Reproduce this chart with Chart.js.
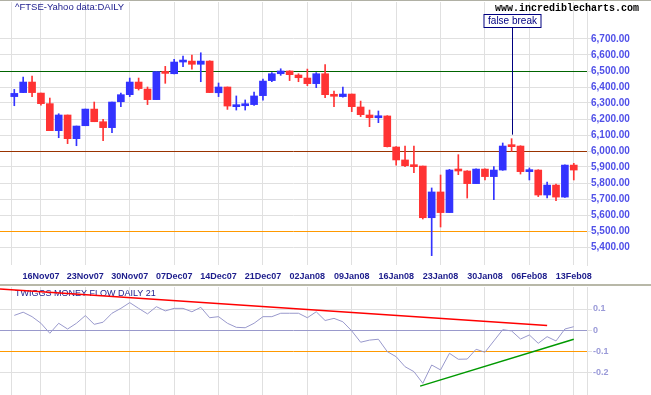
<!DOCTYPE html>
<html>
<head>
<meta charset="utf-8">
<script src="https://cdn.jsdelivr.net/npm/chart.js@4.4.1/dist/chart.umd.min.js"></script>
<style>
  html, body { margin: 0; padding: 0; background: #fff; }
  body { width: 651px; height: 395px; position: relative; overflow: hidden; }
  canvas { position: absolute; left: 0; }
  #topBorder { position: absolute; left: 0; top: 0; width: 651px; height: 1px; background: #b0b0a4; }
  #divider { position: absolute; left: 0; top: 284px; width: 651px; height: 2px; background: #b8b8a8; }
</style>
</head>
<body>
<canvas id="priceChart" width="651" height="284" style="top:0"></canvas>
<canvas id="flowChart" width="651" height="108" style="top:287px"></canvas>
<div id="topBorder"></div>
<div id="divider"></div>
<script>
// trading days, FTSE daily
const dates = ["13Nov07","14Nov07","15Nov07","16Nov07","19Nov07","20Nov07","21Nov07","22Nov07","23Nov07",
  "26Nov07","27Nov07","28Nov07","29Nov07","30Nov07","03Dec07","04Dec07","05Dec07","06Dec07","07Dec07",
  "10Dec07","11Dec07","12Dec07","13Dec07","14Dec07","17Dec07","18Dec07","19Dec07","20Dec07","21Dec07",
  "24Dec07","27Dec07","28Dec07","31Dec07","02Jan08","03Jan08","04Jan08","07Jan08","08Jan08","09Jan08",
  "10Jan08","11Jan08","14Jan08","15Jan08","16Jan08","17Jan08","18Jan08","21Jan08","22Jan08","23Jan08",
  "24Jan08","25Jan08","28Jan08","29Jan08","30Jan08","31Jan08","01Feb08","04Feb08","05Feb08","06Feb08",
  "07Feb08","08Feb08","11Feb08","12Feb08","13Feb08"];

const open = [6340,6365,6431,6362,6296,6127,6225,6077,6158,6262,6183,6146,6308,6352,6431,6387,6321,6494,6483,6556,
  6562,6542,6562,6364,6400,6277,6283,6290,6346,6440,6483,6500,6475,6456,6421,6483,6348,6340,6356,6275,
  6225,6208,6219,6025,5944,5906,5906,5583,5744,5615,5881,5875,5796,5887,5840,5881,6031,6031,5871,5881,
  5725,5787,5712,5912];
const high = [6385,6462,6469,6362,6331,6233,6225,6156,6262,6306,6198,6306,6362,6456,6456,6400,6496,6529,6573,6594,
  6600,6614,6564,6425,6400,6344,6319,6369,6450,6490,6514,6502,6483,6512,6490,6540,6375,6400,6356,6312,
  6256,6250,6221,6027,6031,6031,5906,5769,5850,5885,5977,5877,5889,5889,5902,6050,6077,6033,5894,5883,
  5806,5794,5914,5923];
const low = [6283,6365,6340,6287,6127,6083,6046,6033,6158,6183,6065,6115,6277,6340,6381,6290,6321,6423,6481,6527,
  6512,6433,6365,6340,6260,6256,6256,6285,6317,6433,6473,6440,6433,6408,6396,6333,6277,6337,6246,6215,
  6152,6177,6025,5912,5902,5865,5575,5346,5525,5615,5852,5706,5796,5819,5696,5879,5998,5856,5819,5715,
  5706,5690,5710,5819];
const close = [6360,6431,6365,6296,6127,6225,6077,6156,6262,6183,6146,6306,6352,6431,6390,6321,6496,6485,6556,6560,
  6542,6562,6365,6400,6281,6281,6289,6344,6437,6483,6500,6477,6458,6421,6483,6352,6342,6356,6277,6227,
  6208,6217,6027,5944,5908,5902,5583,5744,5615,5881,5875,5796,5887,5840,5881,6031,6027,5871,5881,5725,
  5787,5712,5912,5881];

// Twiggs Money Flow (21)
const moneyFlow = [0.070,0.085,0.064,0.033,-0.014,0.033,0.006,0.033,0.069,0.028,0.038,0.080,0.103,0.130,0.103,0.077,
  0.111,0.091,0.103,0.103,0.087,0.108,0.059,0.064,0.033,0.014,0.012,0.033,0.064,0.064,0.080,0.080,
  0.080,0.059,0.087,0.046,0.056,0.040,-0.003,-0.056,-0.046,-0.042,-0.100,-0.124,-0.171,-0.194,-0.249,-0.163,
  -0.186,-0.108,-0.136,-0.135,-0.089,-0.103,-0.050,0.003,-0.003,-0.041,-0.022,-0.061,-0.030,-0.050,0.006,0.017];

// trend lines on the money flow panel: [index, value]
const redTrend = [[-1.61, 0.194], [60.0, 0.023]];
const greenTrend = [[45.7, -0.262], [63.0, -0.042]];

// horizontal levels and axis ticks
const priceLevels = [6500, 6000, 5500];
const priceTicks = [5400,5500,5600,5700,5800,5900,6000,6100,6200,6300,6400,6500,6600,6700];
const flowTicks = [0.1, 0, -0.1, -0.2];
const weekTicks = dates.map((d, i) => i).filter(i => i % 5 === 3);

// "false break" note
const breakIndex = 56;
const breakValue = 6102;
const breakLabelValue = 6775;

const levelColors = ["#006400", "#993300", "#ff9900"];
const UP = "#3333ff";
const DOWN = "#ff3333";
const GRID = "#e0e0e0";
const NAVY = "#1c1c8c";
const X_MIN = -1.61, X_MAX = 64.49;

const candleColors = close.map((c, i) => (c >= open[i] ? UP : DOWN));

// keep the plot area where we put it, no label overflow padding
function noPadding(scale) {
  scale.paddingTop = 0;
  scale.paddingBottom = 0;
  scale.paddingLeft = 0;
  scale.paddingRight = 0;
}

const xScaleBase = {
  type: "linear",
  min: X_MIN,
  max: X_MAX,
  offset: false,
  grid: { color: GRID, offset: false, drawTicks: false },
  border: { display: false },
  afterBuildTicks: (scale) => {
    scale.ticks = [-0.37, ...weekTicks].map((v) => ({ value: v }));
  },
};

function formatPrice(v) {
  return v.toFixed(2).replace(/\B(?=(\d{3})+(?!\d))/, ",");
}

const textPlugin = {
  id: "textPlugin",
  afterDatasetsDraw(chart) {
    const { ctx, scales } = chart;
    ctx.save();
    ctx.textBaseline = "middle";
    ctx.fillStyle = NAVY;
    ctx.font = "9.5px 'Liberation Sans'";
    ctx.fillText("^FTSE-Yahoo data:DAILY", 15, 7);
    ctx.fillStyle = "#000";
    ctx.font = "bold 10px 'Liberation Mono'";
    ctx.fillText("www.incrediblecharts.com", 495, 8);

    // false break note
    const x = Math.round(scales.x.getPixelForValue(breakIndex)) + 0.5;
    const yLow = scales.y.getPixelForValue(breakValue);
    const yBox = Math.round(scales.y.getPixelForValue(breakLabelValue)) + 0.5;
    ctx.font = "10px 'Liberation Sans'";
    const w = Math.round(ctx.measureText("false break").width) + 8;
    ctx.strokeStyle = "#000080";
    ctx.lineWidth = 1;
    ctx.beginPath();
    ctx.moveTo(x, yBox);
    ctx.lineTo(x, yLow);
    ctx.stroke();
    ctx.fillStyle = "#fff";
    ctx.fillRect(x - w / 2, yBox - 13, w, 13);
    ctx.strokeRect(x - w / 2, yBox - 13, w, 13);
    ctx.fillStyle = "#000080";
    ctx.textAlign = "center";
    ctx.fillText("false break", x, yBox - 6.5);
    ctx.restore();
  },
};

new Chart(document.getElementById("priceChart"), {
  type: "bar",
  data: {
    datasets: [
      {
        label: "range",
        data: dates.map((d, i) => ({ x: i, y: [low[i], high[i]] })),
        backgroundColor: candleColors,
        barThickness: 1,
        grouped: false,
      },
      {
        label: "body",
        data: dates.map((d, i) => ({ x: i, y: [open[i], close[i]] })),
        backgroundColor: candleColors,
        barThickness: 7,
        minBarLength: 2,
        grouped: false,
      },
    ],
  },
  options: {
    responsive: false,
    devicePixelRatio: 1,
    animation: false,
    layout: { padding: { top: 2, left: 0, right: 0, bottom: 0 }, autoPadding: false },
    plugins: { legend: { display: false }, tooltip: { enabled: false } },
    scales: {
      x: {
        ...xScaleBase,
        position: "bottom",
        ticks: {
          autoSkip: false,
          maxRotation: 0,
          padding: 6,
          color: NAVY,
          font: { family: "Liberation Sans", size: 9, weight: "bold" },
          callback: (v) => (Number.isInteger(v) && dates[v] ? dates[v] : ""),
        },
        afterFit: (scale) => { scale.height = 19; noPadding(scale); },
      },
      y: {
        position: "right",
        min: 5287.5,
        max: 6931.25,
        beginAtZero: false,
        grid: {
          color: (ctx) => {
            const k = priceLevels.indexOf(ctx.tick && ctx.tick.value);
            return k >= 0 ? levelColors[k] : GRID;
          },
          tickColor: GRID,
          tickLength: 4,
        },
        border: { color: GRID },
        ticks: {
          padding: 0,
          color: "#5050e8",
          font: { family: "Liberation Sans", size: 10, weight: "bold" },
          callback: (v) => formatPrice(v),
        },
        afterBuildTicks: (scale) => {
          scale.ticks = priceTicks.map((v) => ({ value: v }));
        },
        afterFit: (scale) => { scale.width = 64; noPadding(scale); },
      },
    },
  },
  plugins: [textPlugin],
});

const flowTitle = {
  id: "flowTitle",
  beforeDatasetsDraw(chart) {
    const { ctx } = chart;
    ctx.save();
    ctx.fillStyle = NAVY;
    ctx.textBaseline = "middle";
    ctx.font = "9px 'Liberation Sans'";
    ctx.fillText("TWIGGS MONEY FLOW DAILY 21", 15, 7);
    ctx.restore();
  },
};

new Chart(document.getElementById("flowChart"), {
  type: "line",
  data: {
    datasets: [
      {
        data: moneyFlow.map((v, i) => ({ x: i, y: v })),
        borderColor: "#9999cc",
        borderWidth: 1,
        pointRadius: 0,
        tension: 0,
      },
      {
        data: redTrend.map(([x, y]) => ({ x, y })),
        borderColor: "#ff0000",
        borderWidth: 1.5,
        pointRadius: 0,
      },
      {
        data: greenTrend.map(([x, y]) => ({ x, y })),
        borderColor: "#009900",
        borderWidth: 1.5,
        pointRadius: 0,
      },
    ],
  },
  options: {
    responsive: false,
    devicePixelRatio: 1,
    animation: false,
    layout: { padding: 0, autoPadding: false },
    plugins: { legend: { display: false }, tooltip: { enabled: false } },
    scales: {
      x: {
        ...xScaleBase,
        ticks: { display: false },
        afterFit: (scale) => { scale.height = 0; noPadding(scale); },
      },
      y: {
        position: "right",
        min: -0.3038,
        max: 0.2033,
        grid: {
          color: (ctx) => {
            const v = ctx.tick && ctx.tick.value;
            if (v === 0) return "#9999cc";
            if (v === -0.1) return "#ff9900";
            return GRID;
          },
          tickColor: GRID,
          tickLength: 5,
        },
        border: { color: GRID },
        ticks: {
          padding: 1,
          color: "#9a9ad8",
          font: { family: "Liberation Sans", size: 9, weight: "bold" },
          callback: (v) => String(v),
        },
        afterBuildTicks: (scale) => {
          scale.ticks = flowTicks.map((v) => ({ value: v }));
        },
        afterFit: (scale) => { scale.width = 64; noPadding(scale); },
      },
    },
  },
  plugins: [flowTitle],
});
</script>
</body>
</html>
